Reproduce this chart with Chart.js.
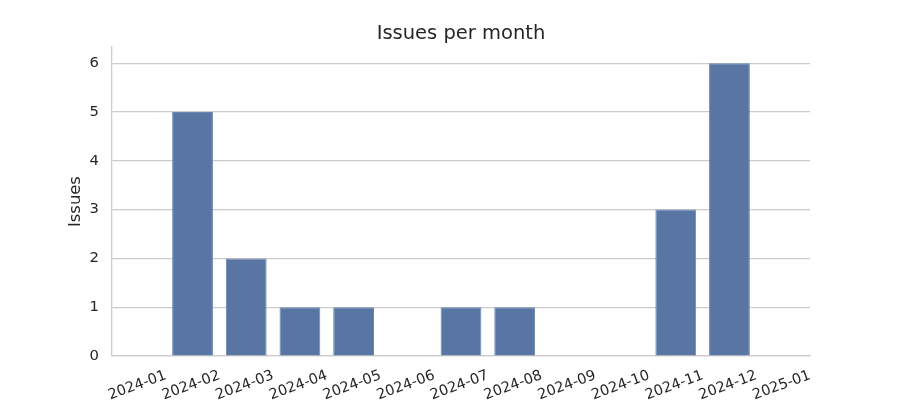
<!DOCTYPE html>
<html>
<head>
<meta charset="utf-8">
<script src="https://cdn.jsdelivr.net/npm/chart.js@4/dist/chart.umd.min.js"></script>
<style>
  html, body { margin: 0; padding: 0; background: #fff; }
  #chart { display: block; }
</style>
</head>
<body>
<canvas id="chart" width="900" height="400"></canvas>
<script>
const months = ["2024-01", "2024-02", "2024-03", "2024-04", "2024-05", "2024-06", "2024-07",
  "2024-08", "2024-09", "2024-10", "2024-11", "2024-12", "2025-01"];
const issueCounts = [0, 5, 2, 1, 1, 0, 1, 1, 0, 0, 3, 6, 0];
const yTicks = [0, 1, 2, 3, 4, 5, 6];

const textColor = "#262626";
const gridColor = "#cccccc";
const font = "'DejaVu Sans', sans-serif";

new Chart(document.getElementById("chart"), {
  type: "bar",
  data: {
    labels: months,
    datasets: [{
      label: "Issues",
      data: issueCounts,
      backgroundColor: "#5875a4",
      borderColor: "#6a85b0",
      borderWidth: 1,
      barPercentage: 0.76,
      categoryPercentage: 1,
    }],
  },
  options: {
    responsive: false,
    animation: false,
    layout: { padding: { left: 0, right: 90, top: 0, bottom: 0 } },
    plugins: {
      legend: { display: false },
      tooltip: { enabled: false },
      title: {
        display: true,
        fullSize: false,
        text: "Issues per month",
        color: textColor,
        font: { family: font, size: 19.5, weight: "normal" },
        padding: { top: 22.5, bottom: 1.2 },
      },
    },
    scales: {
      x: {
        offset: true,
        grid: { display: false, drawTicks: false },
        border: { display: true, color: gridColor, width: 1.3 },
        ticks: {
          color: textColor,
          font: { family: font, size: 14.5 },
          maxRotation: 20,
          minRotation: 20,
          autoSkip: false,
          labelOffset: 27,
          padding: 11,
        },
        afterFit: (s) => { s.height = 44; },
      },
      y: {
        min: 0,
        max: 6.33,
        afterBuildTicks: (s) => { s.ticks = yTicks.map((v) => ({ value: v })); },
        grid: { color: gridColor, lineWidth: 1.2, drawTicks: false },
        border: { display: true, color: gridColor, width: 1.3 },
        ticks: {
          color: textColor,
          font: { family: font, size: 14.8 },
          padding: 13,
        },
        title: {
          display: true,
          text: "Issues",
          color: textColor,
          font: { family: font, size: 16.4 },
          padding: { top: 66, bottom: 0 },
        },
        afterFit: (s) => { s.width = 112; },
      },
    },
  },
});
</script>
</body>
</html>
